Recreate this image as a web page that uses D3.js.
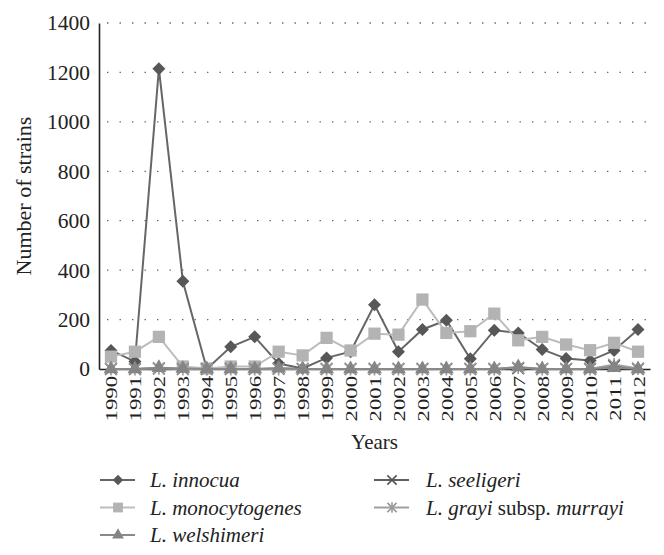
<!DOCTYPE html>
<html>
<head>
<meta charset="utf-8">
<script src="https://cdn.jsdelivr.net/npm/d3@7"></script>
<style>
  body { margin: 0; background: #fff; }
  svg, svg text { font-family: "Liberation Serif", "Tinos", "Times New Roman", "DejaVu Serif", "Noto Serif", serif; }
</style>
</head>
<body>
<svg id="chart" width="664" height="555"></svg>
<script>
// Dados
const anos = ["1990","1991","1992","1993","1994","1995","1996","1997","1998","1999","2000",
  "2001","2002","2003","2004","2005","2006","2007","2008","2009","2010","2011","2012"];

const innocua =       [75, 30, 1215, 355, 0, 90, 130, 22, 2, 45, 70, 260, 70, 160, 197, 41, 157, 146, 79, 42, 34, 75, 160];
const monocytogenes = [50, 70, 130, 10, 2, 10, 10, 70, 55, 126, 75, 143, 139, 281, 146, 153, 224, 116, 130, 99, 76, 106, 70];
const welshimeri =    [0, 0, 5, 2, 0, 0, 0, 3, 0, 0, 0, 0, 0, 0, 0, 0, 0, 8, 0, 0, 0, 5, 0];
const seeligeri =     [0, 0, 2, 0, 0, 0, 0, 2, 0, 0, 0, 0, 0, 0, 0, 0, 0, 3, 0, 0, 0, 12, 0];
const grayi =         [0, 0, 3, 0, 0, 0, 0, 0, 0, 0, 0, 0, 0, 0, 0, 0, 0, 6, 0, 0, 0, 18, 2];

const yTicks = [0, 200, 400, 600, 800, 1000, 1200, 1400];

const series = {
  innocua:       { nome: ["L. innocua"], valores: innocua, linha: "#666", cor: "#575757", simbolo: "diamond" },
  monocytogenes: { nome: ["L. monocytogenes"], valores: monocytogenes, linha: "#bdbdbd", cor: "#b3b3b3", simbolo: "square" },
  welshimeri:    { nome: ["L. welshimeri"], valores: welshimeri, linha: "#8a8a8a", cor: "#858585", simbolo: "triangle" },
  seeligeri:     { nome: ["L. seeligeri"], valores: seeligeri, linha: "#606060", cor: "#555", simbolo: "cross" },
  grayi:         { nome: ["L. grayi", " subsp. ", "murrayi"], valores: grayi, linha: "#a0a0a0", cor: "#999", simbolo: "asterisk" }
};
const ordem = ["innocua", "monocytogenes", "seeligeri", "grayi", "welshimeri"];

const svg = d3.select("#chart");
const margem = { left: 99, right: 14, top: 23, bottom: 186 };
const largura = 664 - margem.left - margem.right;
const altura = 555 - margem.top - margem.bottom;
const fonte = '"Liberation Serif", "Tinos", "Times New Roman", "DejaVu Serif", serif';

const g = svg.append("g").attr("transform", `translate(${margem.left},${margem.top})`);

const x = d3.scaleBand().domain(anos).range([0, largura]);
const y = d3.scaleLinear().domain([0, 1400]).range([altura, 0]);

// Grade pontilhada
g.selectAll(".grade")
  .data(yTicks.filter(t => t > 0))
  .enter().append("line")
  .attr("x1", 8).attr("x2", largura)
  .attr("y1", d => y(d)).attr("y2", d => y(d))
  .attr("stroke", "#666").attr("stroke-width", 1.3)
  .attr("stroke-dasharray", "1.4,11.1");

// Eixo Y
const eixoY = g.append("g")
  .call(d3.axisLeft(y).tickValues(yTicks).tickFormat(d3.format("d")).tickSize(0).tickPadding(9))
  .attr("font-family", fonte);
eixoY.select(".domain").attr("stroke", "#222").attr("stroke-width", 1.6);
eixoY.selectAll("text").attr("font-size", 21.5).attr("fill", "#222");

// Eixo X
const eixoX = g.append("g")
  .attr("transform", `translate(0,${altura})`)
  .call(d3.axisBottom(x).tickSize(0))
  .attr("font-family", fonte);
eixoX.select(".domain").attr("stroke", "#222").attr("stroke-width", 1.6);
eixoX.selectAll("text")
  .attr("font-size", 17.5).attr("fill", "#222")
  .attr("x", 0).attr("y", 0)
  .attr("dx", 0).attr("dy", 0)
  .attr("text-anchor", "end")
  .attr("transform", "translate(6.5,7) rotate(-90) scale(1.3,1)");

// Títulos dos eixos
svg.append("text")
  .attr("transform", `translate(31,${margem.top + altura / 2}) rotate(-90)`)
  .attr("text-anchor", "middle")
  .attr("font-size", 22).attr("fill", "#222")
  .text("Number of strains");

svg.append("text")
  .attr("x", margem.left + largura / 2).attr("y", 449)
  .attr("text-anchor", "middle")
  .attr("font-size", 21).attr("fill", "#222")
  .text("Years");

// Símbolos
function desenhaSimbolo(sel, tipo, cor, k) {
  if (tipo === "diamond") {
    sel.append("path").attr("d", `M0,${-6.5 * k}L${6.5 * k},0L0,${6.5 * k}L${-6.5 * k},0Z`).attr("fill", cor);
  } else if (tipo === "square") {
    sel.append("path").attr("d", d3.symbol(d3.symbolSquare, 150 * k * k)()).attr("fill", cor);
  } else if (tipo === "triangle") {
    sel.append("path").attr("d", d3.symbol(d3.symbolTriangle, 95 * k * k)()).attr("fill", cor);
  } else if (tipo === "cross") {
    sel.append("path").attr("d", d3.symbol(d3.symbolTimes, 90 * k * k)()).attr("stroke", cor)
      .attr("stroke-width", 1.6).attr("fill", "none");
  } else if (tipo === "asterisk") {
    sel.append("path").attr("d", d3.symbol(d3.symbolTimes, 90 * k * k)()).attr("stroke", cor)
      .attr("stroke-width", 1.6).attr("fill", "none");
    sel.append("path").attr("d", `M0,${-6.5 * k}V${6.5 * k}`).attr("stroke", cor).attr("stroke-width", 1.6);
  }
}

const linha = d3.line()
  .x((d, i) => x(anos[i]) + x.bandwidth() / 2)
  .y(d => y(d));

ordem.forEach(chave => {
  const s = series[chave];
  g.append("path")
    .datum(s.valores)
    .attr("d", linha)
    .attr("fill", "none")
    .attr("stroke", s.linha)
    .attr("stroke-width", 2);
  g.selectAll(null)
    .data(s.valores)
    .enter().append("g")
    .attr("transform", (d, i) => `translate(${x(anos[i]) + x.bandwidth() / 2},${y(d)})`)
    .each(function() { desenhaSimbolo(d3.select(this), s.simbolo, s.cor, 1); });
});

// Legenda
const legenda = [
  { chave: "innocua", col: 0, lin: 0 },
  { chave: "monocytogenes", col: 0, lin: 1 },
  { chave: "welshimeri", col: 0, lin: 2 },
  { chave: "seeligeri", col: 1, lin: 0 },
  { chave: "grayi", col: 1, lin: 1 }
];
legenda.forEach(item => {
  const s = series[item.chave];
  const lx = item.col === 0 ? 100 : 374;
  const ly = 480 + item.lin * 27.5;
  const lg = svg.append("g").attr("transform", `translate(${lx},${ly})`);
  lg.append("line").attr("x1", 0).attr("x2", 35).attr("stroke", s.linha).attr("stroke-width", 2);
  const m = lg.append("g").attr("transform", "translate(18,0)");
  desenhaSimbolo(m, s.simbolo, s.cor, 0.8);
  const t = lg.append("text").attr("x", item.col === 0 ? 50 : 52).attr("y", 7)
    .attr("font-size", 21).attr("fill", "#222");
  s.nome.forEach((parte, i) => {
    t.append("tspan").attr("font-style", i === 1 ? "normal" : "italic").text(parte);
  });
});
</script>
</body>
</html>
